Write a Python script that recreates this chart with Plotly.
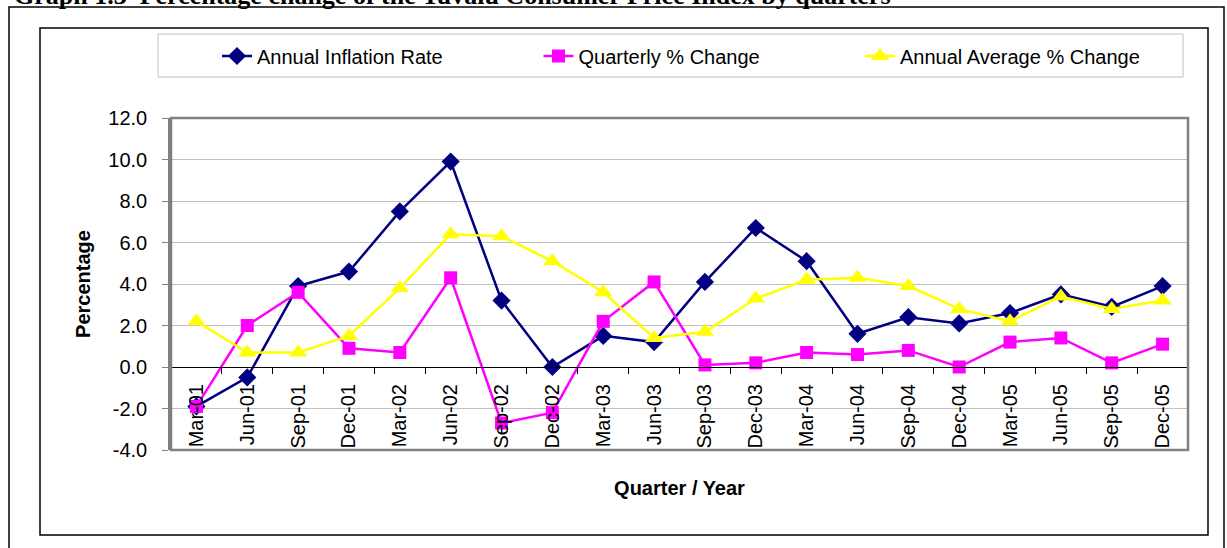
import plotly.graph_objects as go

quarters = ["Mar-01", "Jun-01", "Sep-01", "Dec-01", "Mar-02", "Jun-02", "Sep-02", "Dec-02",
            "Mar-03", "Jun-03", "Sep-03", "Dec-03", "Mar-04", "Jun-04", "Sep-04", "Dec-04",
            "Mar-05", "Jun-05", "Sep-05", "Dec-05"]
annual_inflation = [-1.9, -0.5, 3.9, 4.6, 7.5, 9.9, 3.2, 0.0, 1.5, 1.2,
                    4.1, 6.7, 5.1, 1.6, 2.4, 2.1, 2.6, 3.5, 2.9, 3.9]
quarterly_change = [-1.9, 2.0, 3.6, 0.9, 0.7, 4.3, -2.7, -2.2, 2.2, 4.1,
                    0.1, 0.2, 0.7, 0.6, 0.8, 0.0, 1.2, 1.4, 0.2, 1.1]
annual_average = [2.2, 0.7, 0.7, 1.5, 3.8, 6.4, 6.3, 5.1, 3.6, 1.4,
                  1.7, 3.3, 4.2, 4.3, 3.9, 2.8, 2.2, 3.4, 2.8, 3.2]
series_names = ["Annual Inflation Rate", "Quarterly % Change", "Annual Average % Change"]
y_ticks = [-4, -2, 0, 2, 4, 6, 8, 10, 12]
y_tick_labels = [f"{v:.1f}" for v in y_ticks]

W, H = 1227, 548
L, R, T, B = 171, 1188, 118, 450  # plot area in pixels
FONT = "Liberation Sans, Arial, sans-serif"


def px(x):
    return (x - L) / (R - L)


def py(y):
    return (B - y) / (B - T)


fig = go.Figure()
fig.add_trace(go.Scatter(x=quarters, y=annual_inflation, name=series_names[0], mode="lines+markers",
                         line=dict(color="#000080", width=2.5),
                         marker=dict(symbol="diamond", size=14, color="#000080")))
fig.add_trace(go.Scatter(x=quarters, y=quarterly_change, name=series_names[1], mode="lines+markers",
                         line=dict(color="#FF00FF", width=2.5),
                         marker=dict(symbol="square", size=13, color="#FF00FF")))
fig.add_trace(go.Scatter(x=quarters, y=annual_average, name=series_names[2], mode="lines+markers",
                         line=dict(color="#FFFF00", width=2.5),
                         marker=dict(symbol="triangle-up", size=16, color="#FFFF00")))

zero_pos = (0 - y_ticks[0]) / (y_ticks[-1] - y_ticks[0])

fig.update_layout(
    width=W, height=H,
    margin=dict(l=L, r=W - R, t=T, b=H - B, autoexpand=False),
    paper_bgcolor="white", plot_bgcolor="white",
    font=dict(family=FONT, size=20, color="black"),
    showlegend=True,
    legend=dict(orientation="h", x=px(217), xanchor="left", y=py(56), yanchor="middle",
                font=dict(family=FONT, size=20, color="black"),
                bgcolor="rgba(0,0,0,0)", borderwidth=0,
                entrywidth=276.5, entrywidthmode="pixels"),
    xaxis=dict(type="category", anchor="free", position=zero_pos,
               showline=True, linecolor="black", linewidth=1,
               ticks="outside", tickson="boundaries", ticklen=6, tickcolor="black", tickwidth=1,
               tickangle=-90, tickfont=dict(family=FONT, size=20, color="black"),
               ticklabelstandoff=8,
               showgrid=False, zeroline=False, automargin=False,
               title=dict(text="<b>Quarter / Year</b>", font=dict(family=FONT, size=20), standoff=33),
               range=[-0.5, len(quarters) - 0.5]),
    yaxis=dict(range=[y_ticks[0], y_ticks[-1]], tickvals=y_ticks, ticktext=y_tick_labels,
               showgrid=True, gridcolor="#C0C0C0", gridwidth=1,
               zeroline=False, showline=True, linecolor="#808080", linewidth=2.5,
               ticks="outside", ticklen=6, tickcolor="#808080", tickwidth=1,
               tickfont=dict(family=FONT, size=20, color="black"),
               ticklabelstandoff=11, automargin=False,
               title=dict(text="<b>Percentage</b>", font=dict(family=FONT, size=20), standoff=13)),
)

shapes = [
    # outer frame
    dict(type="rect", xref="paper", yref="paper", x0=px(9), x1=px(1224), y0=py(560), y1=py(7),
         line=dict(color="black", width=1.5), layer="below"),
    # inner chart frame
    dict(type="rect", xref="paper", yref="paper", x0=px(40), x1=px(1208), y0=py(535), y1=py(28),
         line=dict(color="black", width=1.5), layer="below"),
    # legend box
    dict(type="rect", xref="paper", yref="paper", x0=px(158), x1=px(1183), y0=py(77), y1=py(34),
         line=dict(color="#C0C0C0", width=1), layer="below"),
    # plot area border
    dict(type="rect", xref="paper", yref="paper", x0=0, x1=1, y0=0, y1=1,
         line=dict(color="#808080", width=2.5), layer="above"),
]
fig.update_layout(shapes=shapes)

fig.add_annotation(text="<b>Graph 1.3  Percentage change of the Tuvalu Consumer Price Index by quarters</b>",
                   xref="paper", yref="paper", x=px(12), y=py(12), xanchor="left", yanchor="bottom",
                   showarrow=False, font=dict(family="Liberation Serif, Times New Roman, serif", size=26,
                                              color="black"))

fig.write_html("out.html", config={"displayModeBar": False},
               post_script="document.body.style.margin='0';")
